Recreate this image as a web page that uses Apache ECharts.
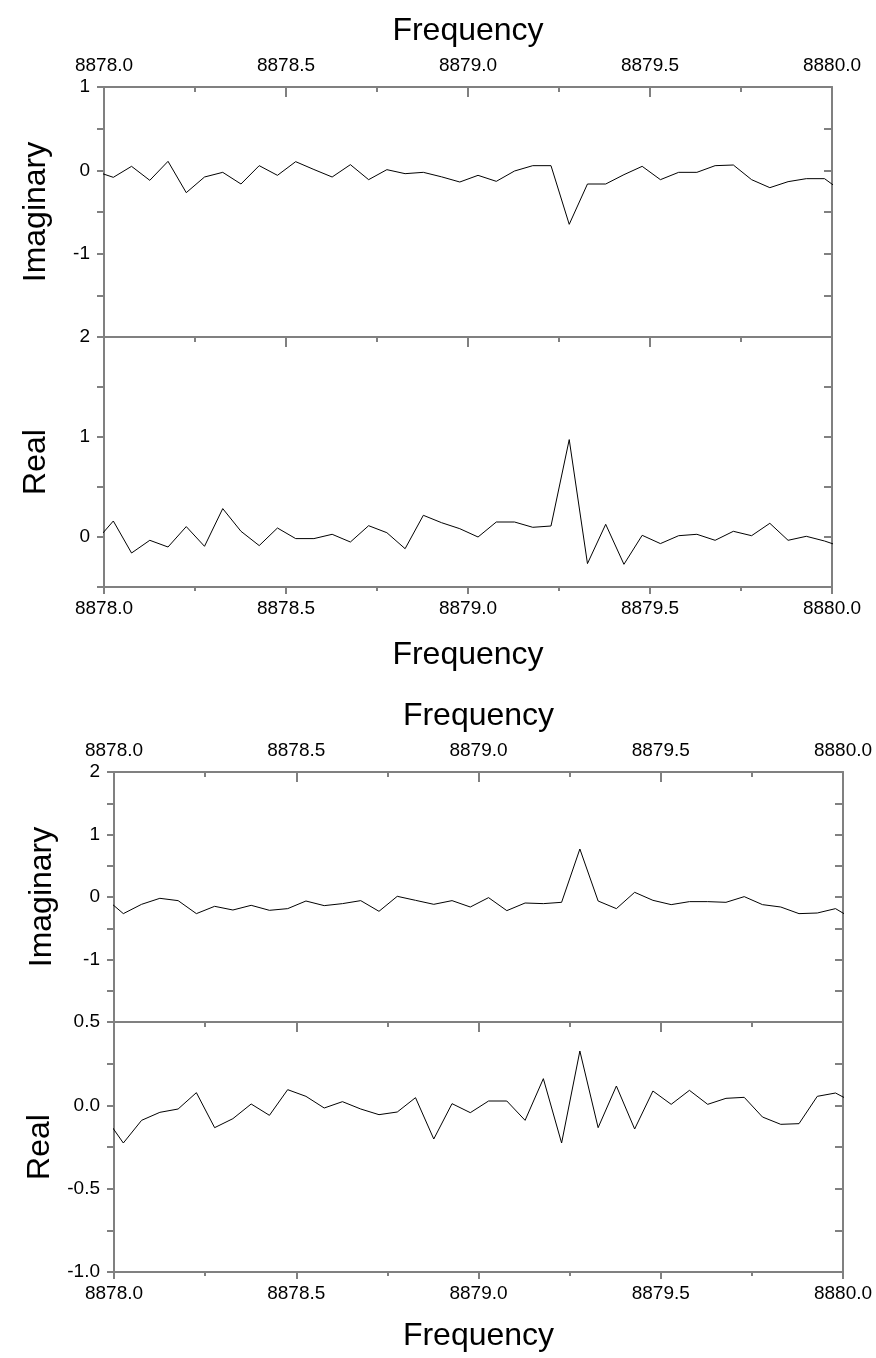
<!DOCTYPE html>
<html>
<head>
<meta charset="utf-8">
<script src="https://cdn.jsdelivr.net/npm/echarts@6/dist/echarts.min.js"></script>
<style>
html, body { margin: 0; padding: 0; background: #fff; }
#chart { width: 876px; height: 1358px; }
</style>
</head>
<body>
<div id="chart"></div>
<script>
// frequency of each sample (first and last fall just outside the axis range)
var freq = [8877.9755, 8878.0256, 8878.0757, 8878.1258, 8878.1759, 8878.2260, 8878.2761, 8878.3262,
    8878.3763, 8878.4264, 8878.4765, 8878.5266, 8878.5767, 8878.6268, 8878.6769, 8878.7270,
    8878.7771, 8878.8272, 8878.8773, 8878.9274, 8878.9775, 8879.0276, 8879.0777, 8879.1278,
    8879.1779, 8879.2280, 8879.2781, 8879.3282, 8879.3783, 8879.4284, 8879.4785, 8879.5286,
    8879.5787, 8879.6288, 8879.6789, 8879.7290, 8879.7791, 8879.8292, 8879.8793, 8879.9294,
    8879.9795, 8880.0296]

// upper figure
var imag1 = [-0.01, -0.084, 0.048, -0.12, 0.108, -0.268, -0.08, -0.024, -0.164, 0.056, -0.06,
    0.104, 0.01, -0.08, 0.068, -0.112, 0.008, -0.04, -0.024, -0.078, -0.14, -0.06, -0.132,
    -0.008, 0.056, 0.056, -0.648, -0.164, -0.164, -0.052, 0.048, -0.112, -0.024, -0.024,
    0.056, 0.064, -0.112, -0.208, -0.136, -0.1, -0.1, -0.26]
var real1 = [-0.05, 0.16, -0.16, -0.033, -0.1, 0.104, -0.093, 0.284, 0.057, -0.086, 0.09,
    -0.016, -0.016, 0.027, -0.05, 0.113, 0.043, -0.117, 0.217, 0.143, 0.083, 0.0, 0.15,
    0.15, 0.097, 0.11, 0.974, -0.266, 0.127, -0.273, 0.017, -0.066, 0.013, 0.027, -0.033,
    0.057, 0.013, 0.137, -0.033, 0.007, -0.04, -0.102]

// lower figure
var imag2 = [-0.017, -0.266, -0.117, -0.021, -0.058, -0.266, -0.149, -0.208, -0.133, -0.213,
    -0.186, -0.064, -0.138, -0.106, -0.058, -0.229, 0.011, -0.053, -0.117, -0.058, -0.16,
    -0.01, -0.218, -0.096, -0.106, -0.085, 0.768, -0.064, -0.186, 0.075, -0.053, -0.122,
    -0.074, -0.074, -0.085, 0.006, -0.122, -0.16, -0.266, -0.256, -0.186, -0.36]
var real2 = [-0.07, -0.226, -0.09, -0.042, -0.022, 0.076, -0.134, -0.08, 0.008, -0.06, 0.094,
    0.054, -0.016, 0.022, -0.022, -0.056, -0.04, 0.046, -0.202, 0.01, -0.044, 0.026, 0.026,
    -0.09, 0.16, -0.226, 0.326, -0.134, 0.116, -0.142, 0.086, 0.006, 0.09, 0.006, 0.042,
    0.048, -0.07, -0.114, -0.11, 0.054, 0.074, 0.016]

var FONT = 'Liberation Sans'
var AXIS_GRAY = '#808080'

function pairs(ys) {
    return freq.map(function (f, i) { return [f, ys[i]] })
}

function xAxis(grid, pos, opts) {
    return {
        type: 'value',
        gridIndex: grid,
        position: pos,
        min: 8878,
        max: 8880,
        interval: 0.5,
        name: opts.name || '',
        nameLocation: 'middle',
        nameGap: opts.nameGap || 0,
        nameTextStyle: { fontFamily: FONT, fontSize: 32, color: '#000' },
        axisLine: { show: true, onZero: false, lineStyle: { color: AXIS_GRAY, width: 2 } },
        axisTick: { show: opts.ticks !== false, inside: !!opts.inside, length: opts.inside ? 10 : 7,
            lineStyle: { color: AXIS_GRAY, width: 2 } },
        minorTick: { show: opts.ticks !== false, splitNumber: 2, length: opts.inside ? 5 : 4,
            lineStyle: { color: AXIS_GRAY, width: 2 } },
        axisLabel: { show: !!opts.labels, margin: 12, fontFamily: FONT, fontSize: 19, color: '#000',
            formatter: function (v) { return v.toFixed(1) } },
        splitLine: { show: false },
        minorSplitLine: { show: false }
    }
}

function yAxis(grid, pos, min, max, step, fmt, name, gap) {
    var left = pos === 'left'
    return {
        type: 'value',
        gridIndex: grid,
        position: pos,
        min: min,
        max: max,
        interval: step,
        name: name || '',
        nameLocation: 'middle',
        nameGap: gap || 0,
        nameTextStyle: { fontFamily: FONT, fontSize: 32, color: '#000' },
        axisLine: { show: true, onZero: false, lineStyle: { color: AXIS_GRAY, width: 2 } },
        axisTick: { show: true, inside: !left, length: left ? 7 : 8, lineStyle: { color: AXIS_GRAY, width: 2 } },
        axisLabel: { show: left, margin: 14, fontFamily: FONT, fontSize: 19, color: '#000', formatter: fmt },
        splitLine: { show: false }
    }
}

// integer labels only, the bottom one is covered by the panel below
function intLabel(hide) {
    return function (v) {
        if (Math.abs(v - Math.round(v)) > 1e-6 || Math.abs(v - hide) < 1e-6) return ''
        return String(Math.round(v))
    }
}
function halfLabel(v) {
    if (Math.abs(v * 2 - Math.round(v * 2)) > 1e-6) return ''
    return v.toFixed(1)
}

var grids = [
    { left: 104, width: 728, top: 87, height: 250 },
    { left: 104, width: 728, top: 337, height: 250 },
    { left: 114, width: 729, top: 772, height: 250 },
    { left: 114, width: 729, top: 1022, height: 250 }
]

var option = {
    animation: false,
    backgroundColor: '#fff',
    grid: grids,
    xAxis: [
        xAxis(0, 'top', { labels: true, inside: true, name: 'Frequency', nameGap: 40 }),
        xAxis(0, 'bottom', { ticks: false }),
        xAxis(1, 'bottom', { labels: true, name: 'Frequency', nameGap: 52 }),
        xAxis(1, 'top', { inside: true }),
        xAxis(2, 'top', { labels: true, inside: true, name: 'Frequency', nameGap: 40 }),
        xAxis(2, 'bottom', { ticks: false }),
        xAxis(3, 'bottom', { labels: true, name: 'Frequency', nameGap: 48 }),
        xAxis(3, 'top', { inside: true })
    ],
    yAxis: [
        yAxis(0, 'left', -2, 1, 0.5, intLabel(-2), 'Imaginary', 52),
        yAxis(0, 'right', -2, 1, 0.5),
        yAxis(1, 'left', -0.5, 2, 0.5, intLabel(99), 'Real', 52),
        yAxis(1, 'right', -0.5, 2, 0.5),
        yAxis(2, 'left', -2, 2, 0.5, intLabel(-2), 'Imaginary', 56),
        yAxis(2, 'right', -2, 2, 0.5),
        yAxis(3, 'left', -1, 0.5, 0.25, halfLabel, 'Real', 56),
        yAxis(3, 'right', -1, 0.5, 0.25)
    ],
    series: [
        { type: 'line', xAxisIndex: 0, yAxisIndex: 0, data: pairs(imag1) },
        { type: 'line', xAxisIndex: 2, yAxisIndex: 2, data: pairs(real1) },
        { type: 'line', xAxisIndex: 4, yAxisIndex: 4, data: pairs(imag2) },
        { type: 'line', xAxisIndex: 6, yAxisIndex: 6, data: pairs(real2) }
    ].map(function (s) {
        s.showSymbol = false
        s.symbol = 'none'
        s.clip = true
        s.lineStyle = { color: '#000', width: 1 }
        return s
    })
}

echarts.init(document.getElementById('chart')).setOption(option)
</script>
</body>
</html>
